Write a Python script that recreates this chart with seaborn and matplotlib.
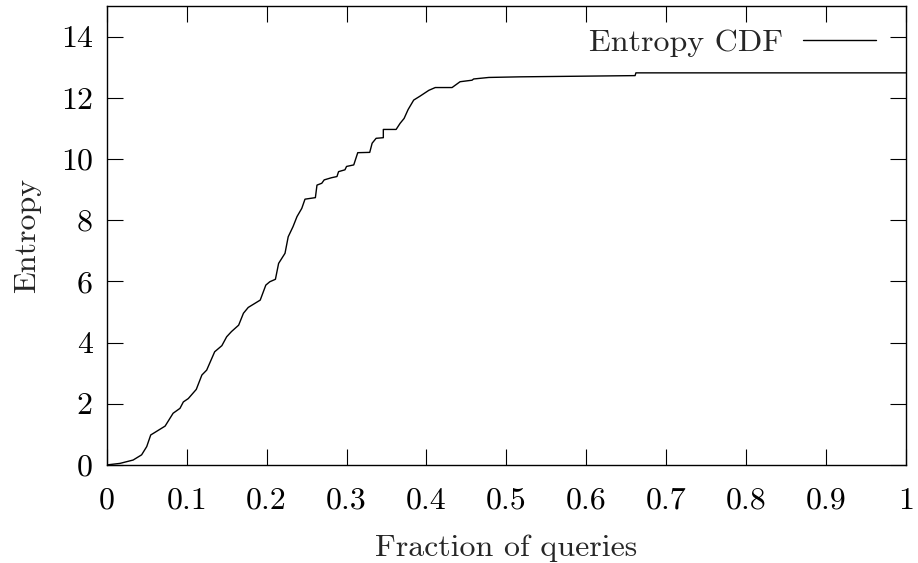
import matplotlib
matplotlib.use("Agg")
import matplotlib.pyplot as plt
import seaborn as sns
import pandas as pd

fraction = [0.0, 0.0165, 0.033, 0.0436, 0.05, 0.055, 0.060, 0.073, 0.083, 0.0916, 0.0958,
            0.102, 0.112, 0.119, 0.125, 0.135, 0.144, 0.150, 0.156, 0.165, 0.171, 0.177,
            0.192, 0.199, 0.204, 0.211, 0.215, 0.223, 0.227, 0.233, 0.238, 0.244, 0.248,
            0.261, 0.263, 0.269, 0.272, 0.281, 0.288, 0.290, 0.298, 0.300, 0.309, 0.314,
            0.329, 0.332, 0.337, 0.346, 0.346, 0.362, 0.367, 0.372, 0.377, 0.384, 0.392,
            0.403, 0.411, 0.432, 0.442, 0.457, 0.459, 0.478, 0.517, 0.661, 0.662, 1.0]
entropy = [0.0, 0.05, 0.16, 0.33, 0.6, 0.98, 1.06, 1.27, 1.69, 1.85, 2.06,
           2.17, 2.47, 2.94, 3.1, 3.70, 3.90, 4.19, 4.36, 4.57, 4.96, 5.15,
           5.39, 5.88, 5.99, 6.07, 6.59, 6.92, 7.46, 7.79, 8.12, 8.39, 8.69,
           8.74, 9.15, 9.21, 9.32, 9.39, 9.43, 9.59, 9.65, 9.76, 9.81, 10.21,
           10.22, 10.52, 10.68, 10.70, 10.97, 10.97, 11.17, 11.33, 11.62, 11.93, 12.06,
           12.25, 12.34, 12.34, 12.53, 12.58, 12.62, 12.67, 12.69, 12.73, 12.82, 12.82]
x_ticks = [0, 0.1, 0.2, 0.3, 0.4, 0.5, 0.6, 0.7, 0.8, 0.9, 1]
x_tick_labels = ["0", "0.1", "0.2", "0.3", "0.4", "0.5", "0.6", "0.7", "0.8", "0.9", "1"]
y_ticks = [0, 2, 4, 6, 8, 10, 12, 14]
y_tick_labels = ["0", "2", "4", "6", "8", "10", "12", "14"]

sns.set_theme(style="ticks")
plt.rcParams["font.family"] = ["cmr10", "DejaVu Serif"]
plt.rcParams["axes.unicode_minus"] = False
plt.rcParams["axes.formatter.use_mathtext"] = True

FS = 23
fig = plt.figure(figsize=(9.18, 5.63), dpi=100)
ax = fig.add_axes([0.1163, 0.1742, 0.8707, 0.8148])

df = pd.DataFrame({"Fraction of queries": fraction, "Entropy": entropy})
sns.lineplot(data=df, x="Fraction of queries", y="Entropy", ax=ax, sort=False,
             estimator=None, color="black", linewidth=1.0, label="Entropy CDF")

ax.set_xlim(0, 1)
ax.set_ylim(0, 15)
ax.set_xticks(x_ticks)
ax.set_xticklabels(x_tick_labels)
ax.set_yticks(y_ticks)
ax.set_yticklabels(y_tick_labels)
ax.tick_params(direction="in", length=11.5, width=0.8, top=True, right=True,
               labelsize=FS, colors="black")
ax.tick_params(axis="x", pad=16)
ax.tick_params(axis="y", pad=10)
for s in ax.spines.values():
    s.set_linewidth(1.0)
    s.set_color("black")
ax.set_xlabel("Fraction of queries", fontsize=FS, labelpad=14)
ax.set_ylabel("Entropy", fontsize=FS, labelpad=14)

leg = ax.legend(loc="center right", bbox_to_anchor=(0.963, 0.9205), frameon=False,
                markerfirst=False, fontsize=FS, handlelength=2.3, handletextpad=0.63,
                borderpad=0, borderaxespad=0)

fig.savefig("out.png", dpi=100)
